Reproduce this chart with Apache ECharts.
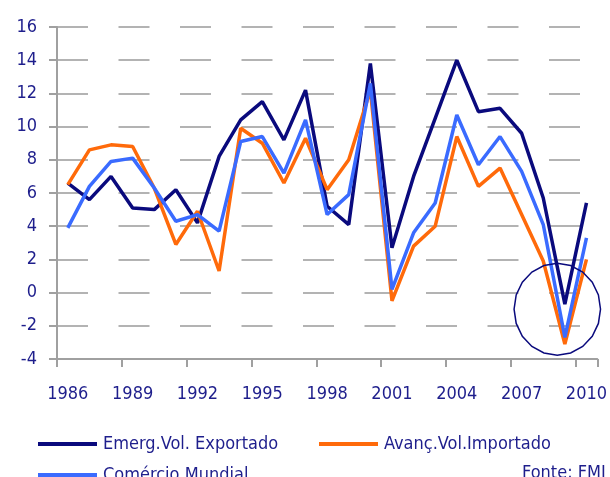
<!DOCTYPE html>
<html lang="pt">
<head>
    <meta charset="utf-8" />
    <title>Volume de comércio</title>
    <style>
      html, body { margin: 0; padding: 0; background: #fff; }
      #main { width: 610px; height: 477px; }
    </style>
</head>
<body>
    <div id="main"></div>
    <script src="https://cdn.jsdelivr.net/npm/echarts@6/dist/echarts.min.js"></script>
    <script>
    // anos (eixo x)
    var anos = ['1986','1987','1988','1989','1990','1991','1992','1993','1994','1995','1996','1997',
                '1998','1999','2000','2001','2002','2003','2004','2005','2006','2007','2008','2009','2010'];
    // séries
    var emergExportado = [6.6, 5.6, 7.0, 5.1, 5.0, 6.2, 4.2, 8.2, 10.4, 11.5, 9.2, 12.2,
                          5.2, 4.1, 13.8, 2.7, 7.0, 10.5, 14.0, 10.9, 11.1, 9.6, 5.7, -0.7, 5.4];
    var avancImportado = [6.5, 8.6, 8.9, 8.8, 6.3, 2.9, 4.9, 1.3, 9.9, 9.0, 6.6, 9.3,
                          6.2, 8.0, 12.2, -0.5, 2.8, 4.0, 9.4, 6.4, 7.5, 4.7, 1.9, -3.1, 2.0];
    var comercioMundial = [3.9, 6.4, 7.9, 8.1, 6.3, 4.3, 4.7, 3.7, 9.1, 9.4, 7.2, 10.4,
                           4.7, 5.9, 12.6, 0.2, 3.6, 5.4, 10.7, 7.7, 9.4, 7.3, 4.1, -2.7, 3.3];
    var nomes = ['Emerg.Vol. Exportado', 'Avanç.Vol.Importado', 'Comércio Mundial'];
    // círculo de destaque (índice do ano, valor, raio em anos / em valor)
    var destaque = { indice: 22.65, valor: -1.0, raioX: 2.0, raioY: 2.77 };

    var fonte = "'Liberation Sans Narrow', 'Arial Narrow', 'DejaVu Sans Condensed', sans-serif";
    var azulTexto = '#1e1e8c';
    var cinza = '#a0a0a0';

    var myChart = echarts.init(document.getElementById('main'));

    function serie(nome, dados, cor) {
      return {
        name: nome,
        type: 'line',
        data: dados,
        symbol: 'none',
        smooth: false,
        lineStyle: { color: cor, width: 3.5 },
        itemStyle: { color: cor }
      };
    }

    function legenda(nome, left, top) {
      return {
        data: [{ name: nome, icon: 'rect' }],
        left: left,
        top: top,
        itemWidth: 59,
        itemHeight: 4,
        itemGap: 0,
        textStyle: { fontFamily: fonte, fontSize: 18, color: azulTexto, padding: [0, 0, 0, 1] }
      };
    }

    var option = {
      animation: false,
      textStyle: { fontFamily: fonte },
      grid: { left: 57, right: 9, top: 27, bottom: 118, containLabel: false },
      legend: [
        legenda(nomes[0], 33, 430),
        legenda(nomes[1], 314, 430),
        legenda(nomes[2], 33, 461)
      ],
      xAxis: {
        type: 'category',
        data: anos,
        boundaryGap: true,
        axisLine: { show: true, onZero: false, lineStyle: { color: cinza, width: 2 } },
        axisTick: { show: true, inside: false, alignWithLabel: false, interval: 2, length: 8,
                    lineStyle: { color: cinza, width: 2 } },
        axisLabel: { interval: 2, margin: 26, fontSize: 18, color: azulTexto, fontFamily: fonte },
        splitLine: { show: false }
      },
      yAxis: {
        type: 'value',
        min: -4,
        max: 16,
        interval: 2,
        axisLine: { show: true, lineStyle: { color: cinza, width: 2 } },
        axisTick: { show: true, length: 8, lineStyle: { color: cinza, width: 2 } },
        axisLabel: { margin: 20, fontSize: 18, color: azulTexto, fontFamily: fonte },
        splitLine: { show: true, lineStyle: { color: '#b3b3b3', width: 2, type: [31, 30.5] } }
      },
      series: [
        serie(nomes[0], emergExportado, '#0a0a7d'),
        serie(nomes[1], avancImportado, '#ff6a0a'),
        serie(nomes[2], comercioMundial, '#3a6bff')
      ]
    };
    myChart.setOption(option);

    // círculo (polígono) à volta de 2008-2010 e a fonte
    var a = myChart.convertToPixel({ gridIndex: 0 }, [22, destaque.valor]);
    var b = myChart.convertToPixel({ gridIndex: 0 }, [23, destaque.valor + destaque.raioY]);
    var passo = b[0] - a[0];
    var cx = a[0] + (destaque.indice - 22) * passo;
    var cy = a[1];
    var rx = destaque.raioX * passo;
    var ry = cy - b[1];
    var pontos = [];
    for (var i = 0; i < 20; i++) {
      var ang = i / 20 * Math.PI * 2;
      pontos.push([cx + rx * Math.cos(ang), cy + ry * Math.sin(ang)]);
    }
    myChart.setOption({
      graphic: [
        {
          type: 'polygon',
          shape: { points: pontos },
          style: { fill: 'none', stroke: '#0a0a7d', lineWidth: 1.5 },
          z: 10
        },
        {
          type: 'text',
          left: 522,
          top: 464,
          style: { text: 'Fonte: FMI', fontFamily: fonte, fontSize: 18, fill: azulTexto }
        }
      ]
    });
    </script>
</body>
</html>
